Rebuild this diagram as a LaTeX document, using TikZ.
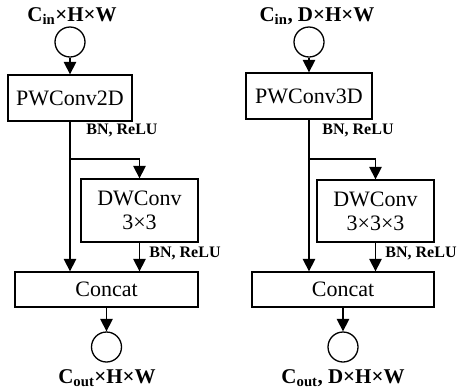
\documentclass[tikz,border=0pt]{standalone}
\usepackage{fontspec}
\setmainfont{Liberation Serif}
\usetikzlibrary{arrows.meta,calc,positioning}

\begin{document}
\begin{tikzpicture}[x=1pt,y=-1pt,
    line width=1.3pt,
    arr/.style={-{Triangle[width=12.5pt,length=12.5pt]}},
    box/.style={draw,rectangle,inner sep=0pt,align=center,font=\fontsize{22}{26}\selectfont},
    io/.style={draw,circle,minimum size=30pt,inner sep=0pt},
    lbl/.style={inner sep=0pt,font=\fontsize{21}{24}\selectfont\bfseries},
    note/.style={inner sep=0pt,font=\fontsize{16}{18}\selectfont\bfseries}]
    \useasboundingbox (0,0) rectangle (457,389);
    % 2D block
    \node[lbl] (in1) at (72,16) {C\textsubscript{in}×H×W};
    \node[io] (c1) at (70,42) {};
    \node[box,minimum width=124pt,minimum height=46pt] (pw1) at (70,98) {PWConv2D};
    \node[box,minimum width=117pt,minimum height=63pt] (dw1) at (139.5,210.5) {DWConv\\[-2pt]3×3};
    \node[box,minimum width=183pt,minimum height=35pt] (cat1) at (106.5,289.5) {Concat};
    \node[io] (c2) at (106.5,347) {};
    \node[lbl] (out1) at (107,378) {C\textsubscript{out}×H×W};
    \node[note] (bn1) at (122,130) {BN, ReLU};
    \node[note] (bn2) at (185,253) {BN, ReLU};
    \coordinate (s1) at (70,159);
    \draw[arr] (c1)--(pw1);
    \draw[arr] (pw1.south)--(pw1.south |- cat1.north);
    \draw[arr] (s1) -| (dw1.north);
    \draw[arr] (dw1.south)--(dw1.south |- cat1.north);
    \draw[arr] (cat1)--(c2);
    % 3D block
    \node[lbl] (in2) at (317,16) {C\textsubscript{in}, D×H×W};
    \node[io] (c3) at (309,42) {};
    \node[box,minimum width=126pt,minimum height=46pt] (pw2) at (309,96) {PWConv3D};
    \node[box,minimum width=117pt,minimum height=62pt] (dw2) at (375.5,211) {DWConv\\[-2pt]3×3×3};
    \node[box,minimum width=182pt,minimum height=35pt] (cat2) at (343,289.5) {Concat};
    \node[io] (c4) at (343,347) {};
    \node[lbl] (out2) at (343,378) {C\textsubscript{out}, D×H×W};
    \node[note] (bn3) at (358,130) {BN, ReLU};
    \node[note] (bn4) at (421,253) {BN, ReLU};
    \coordinate (s2) at (309,159);
    \draw[arr] (c3)--(pw2);
    \draw[arr] (pw2.south)--(pw2.south |- cat2.north);
    \draw[arr] (s2) -| (dw2.north);
    \draw[arr] (dw2.south)--(dw2.south |- cat2.north);
    \draw[arr] (cat2)--(c4);
\end{tikzpicture}
\end{document}
